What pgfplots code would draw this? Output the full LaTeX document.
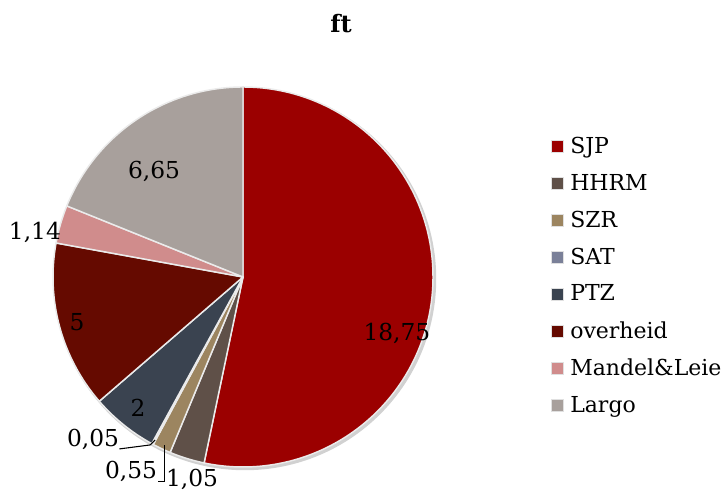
\documentclass[border=0pt]{standalone}
\usepackage{pgfplots}
\pgfplotsset{compat=1.18}
\usepackage{pgfplotstable}
\usepackage{fontspec}
\setmainfont{DejaVu Serif}

% slice colours, in table order
\definecolor{c0}{RGB}{155,0,0}     % SJP
\definecolor{c1}{RGB}{95,80,72}    % HHRM
\definecolor{c2}{RGB}{156,133,96}  % SZR
\definecolor{c3}{RGB}{122,128,152} % SAT
\definecolor{c4}{RGB}{58,67,80}    % PTZ
\definecolor{c5}{RGB}{101,10,0}    % overheid
\definecolor{c6}{RGB}{208,140,140} % Mandel&Leie
\definecolor{c7}{RGB}{168,160,156} % Largo

\pgfplotstableread{
value
18.75
1.05
0.55
0.05
2
5
1.14
6.65
}\ftdata

% cumulative angles, clockwise from the top
\def\total{0}
\pgfplotsforeachungrouped \i in {0,...,7}{%
  \pgfplotstablegetelem{\i}{value}\of\ftdata
  \pgfmathsetmacro\total{\total+\pgfplotsretval}}
\def\run{90}
\pgfplotsforeachungrouped \i in {0,...,7}{%
  \pgfplotstablegetelem{\i}{value}\of\ftdata
  \expandafter\xdef\csname a\i\endcsname{\run}%
  \pgfmathsetmacro\run{\run-360*\pgfplotsretval/\total}%
  \expandafter\xdef\csname b\i\endcsname{\run}}

\begin{document}
\begin{tikzpicture}
\useasboundingbox (0,0) rectangle (544.5pt,373.5pt);
\begin{axis}[
    at={(182.25pt,165.75pt)}, anchor=center,
    scale only axis, width=285pt, height=285pt,
    xmin=-1, xmax=1, ymin=-1, ymax=1,
    hide axis, clip=false,
    title={\textbf{ft}},
    title style={at={(axis description cs:0.758,1.145)}, anchor=center,
        font=\fontsize{18}{21}\selectfont},
    legend cell align=left,
    legend style={draw=none, fill=none,
        at={(axis description cs:1.300,0.879)}, anchor=north west,
        font=\fontsize{16.5}{19}\selectfont, row sep=12pt,
        nodes={inner sep=1pt}},
    legend image code/.code={\filldraw[#1, draw=black!12, line width=0.6pt]
        (0pt,-4.5pt) rectangle (9pt,4.5pt); \path (12.75pt,0pt);},
]
% faint shadow
\fill[black!18] (axis cs:0.01,-0.01) circle[radius=143.5pt];
\pgfplotsinvokeforeach{0,...,7}{%
  \filldraw[fill=c#1, draw=white!92!black, line width=1.1pt, line join=round]
    (axis cs:0,0) --
    (axis cs:{cos(\csname a#1\endcsname)},{sin(\csname a#1\endcsname)})
    arc[start angle=\csname a#1\endcsname, end angle=\csname b#1\endcsname,
        radius=142.5pt] -- cycle;
}
% data labels
\begin{scope}[font=\fontsize{17.5}{20}\selectfont]
\node at (axis cs:0.81,-0.295) {18,75};
\node at (axis cs:-0.468,0.558) {6,65};
\node at (axis cs:-1.095,0.237) {1,14};
\node at (axis cs:-0.874,-0.237) {5};
\node at (axis cs:-0.553,-0.689) {2};
\node at (axis cs:-0.789,-0.853) {0,05};
\node at (axis cs:-0.589,-1.026) {0,55};
\node at (axis cs:-0.268,-1.063) {1,05};
\end{scope}
\draw[black, line width=0.8pt] (axis cs:-0.651,-0.905) -- (axis cs:-0.489,-0.884) -- (axis cs:-0.463,-0.858);
\draw[black, line width=0.8pt] (axis cs:-0.447,-1.074) -- (axis cs:-0.411,-1.074) -- (axis cs:-0.411,-0.884);

\addlegendimage{fill=c0}\addlegendentry{SJP}
\addlegendimage{fill=c1}\addlegendentry{HHRM}
\addlegendimage{fill=c2}\addlegendentry{SZR}
\addlegendimage{fill=c3}\addlegendentry{SAT}
\addlegendimage{fill=c4}\addlegendentry{PTZ}
\addlegendimage{fill=c5}\addlegendentry{overheid}
\addlegendimage{fill=c6}\addlegendentry{Mandel\&Leie}
\addlegendimage{fill=c7}\addlegendentry{Largo}
\end{axis}
\end{tikzpicture}
\end{document}
